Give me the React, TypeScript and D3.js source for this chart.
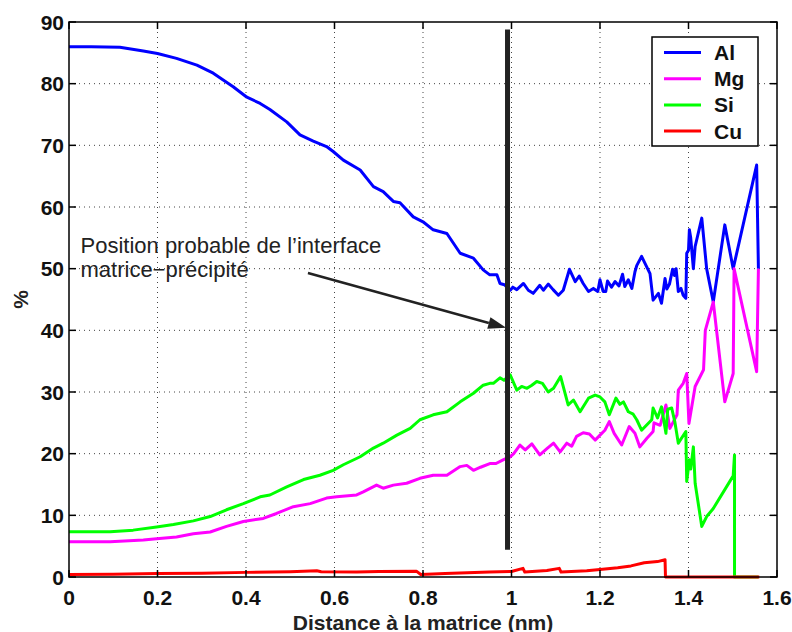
import React from "react";
import * as d3 from "d3";

type P = [number, number];

const xTicks = [0, 0.2, 0.4, 0.6, 0.8, 1, 1.2, 1.4, 1.6];
const yTicks = [0, 10, 20, 30, 40, 50, 60, 70, 80, 90];
const seriesNames = ["Al", "Mg", "Si", "Cu"];
const seriesColors = ["#0000ff", "#ff00ff", "#00ff00", "#ff0000"];

const alData: P[] = [[0,86.0],[0.05,86.0],[0.115,85.9],[0.168,85.3],[0.2,84.9],[0.243,84.1],[0.289,83.0],[0.326,81.7],[0.371,79.5],[0.402,77.8],[0.432,76.8],[0.454,75.8],[0.492,73.8],[0.522,71.7],[0.552,70.7],[0.582,69.8],[0.597,69.0],[0.62,67.6],[0.658,66.0],[0.688,63.3],[0.71,62.5],[0.733,60.9],[0.748,60.7],[0.778,58.4],[0.8,57.6],[0.823,56.3],[0.854,55.7],[0.884,52.5],[0.914,51.7],[0.936,49.8],[0.951,49.0],[0.967,49.0],[0.974,47.6],[0.984,47.4],[0.997,46.5],[1.003,47.0],[1.012,46.6],[1.027,47.6],[1.038,46.5],[1.049,46.0],[1.064,47.3],[1.072,46.5],[1.083,47.5],[1.094,46.6],[1.106,45.7],[1.117,46.5],[1.131,49.9],[1.144,47.9],[1.153,48.8],[1.162,47.6],[1.174,46.3],[1.185,46.8],[1.195,46.3],[1.2,48.2],[1.207,46.3],[1.213,46.3],[1.217,48.0],[1.226,47.0],[1.234,47.9],[1.243,47.2],[1.251,49.1],[1.256,47.1],[1.264,48.2],[1.272,46.8],[1.279,49.5],[1.283,50.5],[1.294,52.0],[1.313,49.2],[1.320,44.9],[1.332,46.0],[1.339,44.4],[1.347,48.4],[1.351,46.7],[1.357,47.5],[1.364,49.9],[1.368,48.9],[1.372,50.0],[1.377,46.3],[1.383,46.8],[1.388,45.7],[1.394,45.2],[1.396,52.5],[1.400,53.0],[1.402,56.3],[1.405,55.0],[1.411,50.0],[1.415,53.6],[1.430,58.2],[1.441,50.0],[1.456,44.6],[1.482,57.1],[1.501,50.0],[1.554,66.8],[1.558,50.0]];

const mgData: P[] = [[0,5.7],[0.093,5.7],[0.168,6.0],[0.198,6.2],[0.243,6.5],[0.281,7.0],[0.319,7.3],[0.356,8.2],[0.394,9.0],[0.439,9.5],[0.469,10.3],[0.507,11.4],[0.545,11.9],[0.582,12.8],[0.605,13.0],[0.65,13.3],[0.665,13.8],[0.695,14.9],[0.71,14.4],[0.733,14.9],[0.763,15.2],[0.793,16.0],[0.823,16.5],[0.854,16.5],[0.884,17.9],[0.899,18.1],[0.914,17.3],[0.93,17.8],[0.951,18.4],[0.965,18.4],[0.981,19.0],[0.997,19.5],[1.005,20.0],[1.019,21.4],[1.031,20.6],[1.046,21.6],[1.064,19.8],[1.08,20.8],[1.095,21.7],[1.11,20.3],[1.125,21.7],[1.136,21.2],[1.147,22.8],[1.162,23.4],[1.176,23.2],[1.189,22.2],[1.2,23.0],[1.211,23.8],[1.221,25.2],[1.232,23.3],[1.249,21.4],[1.266,24.4],[1.279,23.3],[1.29,21.1],[1.306,22.5],[1.320,23.6],[1.322,25.0],[1.336,24.6],[1.349,27.9],[1.358,24.1],[1.374,26.3],[1.377,30.3],[1.388,31.4],[1.396,33.0],[1.401,24.9],[1.415,30.9],[1.434,33.6],[1.438,40.0],[1.456,44.6],[1.482,28.4],[1.501,33.0],[1.503,50.0],[1.554,33.3],[1.558,50.0]];

const siData: P[] = [[0,7.35],[0.093,7.35],[0.145,7.6],[0.198,8.1],[0.236,8.5],[0.281,9.1],[0.319,9.8],[0.356,10.9],[0.394,11.9],[0.432,13.0],[0.454,13.3],[0.492,14.6],[0.53,15.8],[0.567,16.5],[0.597,17.3],[0.62,18.2],[0.658,19.5],[0.688,20.9],[0.71,21.7],[0.741,23.0],[0.771,24.1],[0.793,25.5],[0.823,26.3],[0.854,26.8],[0.884,28.4],[0.914,29.8],[0.936,31.1],[0.951,31.4],[0.959,31.4],[0.974,32.3],[0.983,31.9],[0.997,32.8],[1.012,30.3],[1.023,30.9],[1.035,30.6],[1.046,31.1],[1.057,31.7],[1.07,31.4],[1.083,30.0],[1.095,30.6],[1.111,32.5],[1.128,27.9],[1.14,28.7],[1.155,26.8],[1.174,29.0],[1.189,29.5],[1.2,29.2],[1.211,28.4],[1.221,26.3],[1.236,29.0],[1.245,28.0],[1.253,28.4],[1.264,26.8],[1.275,26.4],[1.283,25.5],[1.294,23.8],[1.317,25.5],[1.320,27.4],[1.33,25.8],[1.339,27.6],[1.349,23.3],[1.353,27.2],[1.362,27.4],[1.369,25.2],[1.377,21.7],[1.394,23.6],[1.396,15.5],[1.402,19.0],[1.405,17.5],[1.411,21.1],[1.415,15.2],[1.430,8.2],[1.441,9.8],[1.456,11.1],[1.501,16.4],[1.504,19.8],[1.504,0],[1.558,0]];

const cuData: P[] = [[0,0.4],[0.1,0.45],[0.2,0.55],[0.3,0.6],[0.4,0.75],[0.5,0.85],[0.56,1.0],[0.57,0.85],[0.65,0.8],[0.7,0.9],[0.785,0.95],[0.795,0.4],[0.85,0.55],[0.95,0.8],[1.0,0.9],[1.026,1.4],[1.03,0.8],[1.08,1.05],[1.108,1.4],[1.112,0.8],[1.17,1.0],[1.2,1.2],[1.24,1.5],[1.27,1.8],[1.3,2.3],[1.33,2.5],[1.347,2.8],[1.348,0],[1.56,0]];

const interfaceLine: P[] = [[0.991, 4.4], [0.991, 88.8]];
const arrowLine: P[] = [[0.54, 49.3], [0.988, 40.4]];
const annotationLines = ["Position probable de l\u2019interface", "matrice\u2212pr\u00e9cipit\u00e9"];
const annotationPos: P[] = [[0.026, 52.6], [0.026, 48.7]];
const xLabel = "Distance \u00e0 la matrice (nm)";
const yLabel = "%";

const W = 792, H = 632;
const L = 69, R = 777, T = 22, B = 577;
const FONT = "'Liberation Sans', Arial, Helvetica, sans-serif";

export default function App() {
  const x = d3.scaleLinear().domain([0, 1.6]).range([L, R]);
  const y = d3.scaleLinear().domain([0, 90]).range([B, T]);
  const line = d3.line<P>().x(d => x(d[0])).y(d => y(d[1]));
  const all = [alData, mgData, siData, cuData];

  const a0 = arrowLine[0], a1 = arrowLine[1];
  const ax0 = x(a0[0]), ay0 = y(a0[1]), ax1 = x(a1[0]), ay1 = y(a1[1]);
  const ang = Math.atan2(ay1 - ay0, ax1 - ax0);
  const hl = 18, hw = 6;
  const bx = ax1 - hl * Math.cos(ang), by = ay1 - hl * Math.sin(ang);
  const head = [
    [ax1, ay1],
    [bx + hw * Math.sin(ang), by - hw * Math.cos(ang)],
    [bx - hw * Math.sin(ang), by + hw * Math.cos(ang)],
  ].map(p => p.join(",")).join(" ");

  const legX = 652, legY = 37, legW = 106, legH = 109;

  return (
    <svg width={W} height={H} style={{ position: "absolute", left: 0, top: 0, background: "#fff" }} fontFamily={FONT}>
      <rect x={0} y={0} width={W} height={H} fill="#fff" />
      {xTicks.slice(1, -1).map(t => (
        <line key={"gx" + t} x1={x(t)} x2={x(t)} y1={T} y2={B} stroke="#444" strokeWidth={1} strokeDasharray="1,4" />
      ))}
      {yTicks.slice(1, -1).map(t => (
        <line key={"gy" + t} x1={L} x2={R} y1={y(t)} y2={y(t)} stroke="#444" strokeWidth={1} strokeDasharray="1,4" />
      ))}
      {all.map((d, i) => (
        <path key={seriesNames[i]} d={line(d) || ""} fill="none" stroke={seriesColors[i]} strokeWidth={3} strokeLinejoin="round" />
      ))}
      <path d={line(interfaceLine) || ""} stroke="#222" strokeWidth={5} fill="none" />
      <line x1={ax0} y1={ay0} x2={bx} y2={by} stroke="#222" strokeWidth={2.5} />
      <polygon points={head} fill="#222" />
      {annotationLines.map((s, i) => (
        <text key={s} x={x(annotationPos[i][0])} y={y(annotationPos[i][1])} fontSize={22} fill="#222">{s}</text>
      ))}
      <rect x={L} y={T} width={R - L} height={B - T} fill="none" stroke="#000" strokeWidth={1.5} />
      {xTicks.map(t => (
        <g key={"tx" + t}>
          <line x1={x(t)} x2={x(t)} y1={B} y2={B - 7} stroke="#000" strokeWidth={1.5} />
          <line x1={x(t)} x2={x(t)} y1={T} y2={T + 7} stroke="#000" strokeWidth={1.5} />
          <text x={x(t)} y={B + 28} textAnchor="middle" fontSize={21} fontWeight="bold" fill="#111">{String(t)}</text>
        </g>
      ))}
      {yTicks.map(t => (
        <g key={"ty" + t}>
          <line x1={L} x2={L + 7} y1={y(t)} y2={y(t)} stroke="#000" strokeWidth={1.5} />
          <line x1={R} x2={R - 7} y1={y(t)} y2={y(t)} stroke="#000" strokeWidth={1.5} />
          <text x={L - 5} y={y(t) + 7.5} textAnchor="end" fontSize={21} fontWeight="bold" fill="#111">{String(t)}</text>
        </g>
      ))}
      <text x={(L + R) / 2} y={629.5} textAnchor="middle" fontSize={21} fontWeight="bold" fill="#222">{xLabel}</text>
      <text transform={`translate(28, ${(T + B) / 2}) rotate(-90)`} textAnchor="middle" fontSize={21} fontWeight="bold" fill="#222">{yLabel}</text>
      <rect x={legX} y={legY} width={legW} height={legH} fill="#fff" stroke="#000" strokeWidth={1.5} />
      {seriesNames.map((n, i) => {
        const ry = legY + 15.5 + i * 26.2;
        return (
          <g key={"lg" + n}>
            <line x1={legX + 12} x2={legX + 49} y1={ry} y2={ry} stroke={seriesColors[i]} strokeWidth={3} />
            <text x={legX + 62} y={ry + 7.5} fontSize={21} fontWeight="bold" fill="#111">{n}</text>
          </g>
        );
      })}
    </svg>
  );
}
